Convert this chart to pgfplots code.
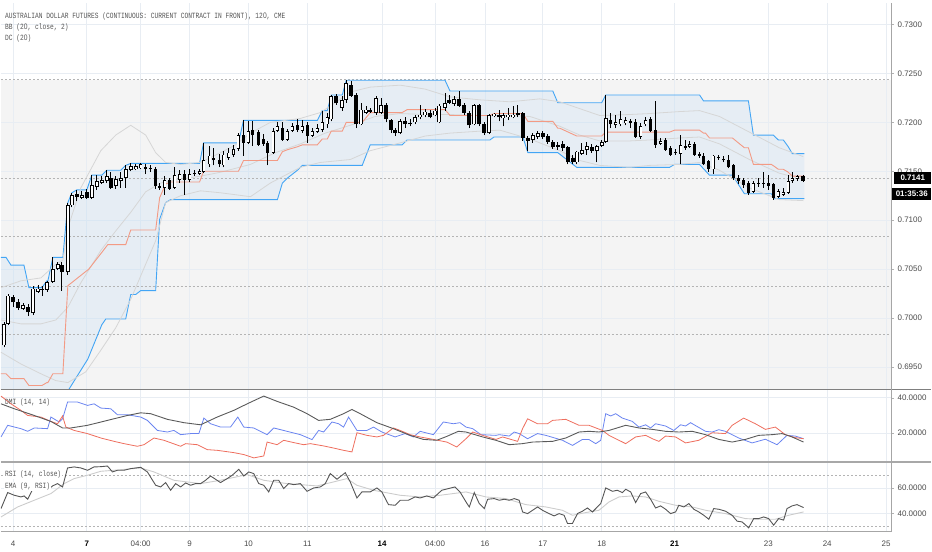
\documentclass[border=0pt]{standalone}
\usepackage{fontspec}
\setmainfont{Liberation Sans}
\newfontfamily\hdr[FakeStretch=0.78]{Liberation Mono}
\newfontfamily\hdrz[FakeStretch=0.84]{Liberation Sans}
\newcommand\zr{{\hdrz 0}}
\usepackage{pgfplots}
\usepackage{pgfplotstable}
\pgfplotsset{compat=1.18}
\usepgfplotslibrary{fillbetween}

\definecolor{gridc}{HTML}{E8EDF3}
\definecolor{labc}{HTML}{4A4A4A}
\definecolor{hdrc}{HTML}{555555}
\definecolor{dcblue}{HTML}{42A5F5}
\definecolor{dcmid}{HTML}{F39A84}
\definecolor{bbgray}{HTML}{D6D6D6}
\definecolor{bggray}{HTML}{F4F4F4}
\definecolor{diplus}{HTML}{6A84F0}
\definecolor{diminus}{HTML}{EE6E5E}
\definecolor{adxc}{HTML}{5A5A5A}
\definecolor{rsic}{HTML}{555555}
\definecolor{emac}{HTML}{CCCCCC}
\definecolor{dashc}{HTML}{B4B4B4}
\definecolor{sepa}{HTML}{7F7F7F}
\definecolor{sepb}{HTML}{A8A8A8}

% bullish candles (close > open)
\pgfplotstableread{
x o h l c
3 0.6972 0.6996 0.6970 0.6994
7 0.6994 0.7025 0.6993 0.7023
22 0.7009 0.7015 0.7008 0.7013
32 0.7005 0.7033 0.7003 0.7030
37 0.7027 0.7034 0.7026 0.7030
46 0.7029 0.7038 0.7027 0.7037
52 0.7037 0.7062 0.7036 0.7050
57 0.7050 0.7057 0.7049 0.7055
67 0.7047 0.7118 0.7044 0.7115
71 0.7115 0.7128 0.7113 0.7126
81 0.7123 0.7130 0.7122 0.7126
91 0.7123 0.7146 0.7122 0.7136
96 0.7134 0.7146 0.7131 0.7140
101 0.7138 0.7145 0.7137 0.7141
106 0.7140 0.7151 0.7138 0.7145
115 0.7135 0.7145 0.7132 0.7142
120 0.7140 0.7149 0.7133 0.7143
125 0.7143 0.7156 0.7133 0.7152
130 0.7151 0.7158 0.7150 0.7155
135 0.7152 0.7157 0.7151 0.7155
140 0.7153 0.7158 0.7152 0.7157
164 0.7133 0.7145 0.7126 0.7141
174 0.7133 0.7154 0.7132 0.7146
179 0.7141 0.7151 0.7138 0.7147
189 0.7141 0.7152 0.7139 0.7147
199 0.7147 0.7152 0.7146 0.7150
203 0.7149 0.7179 0.7148 0.7161
209 0.7157 0.7176 0.7154 0.7166
223 0.7156 0.7171 0.7154 0.7167
228 0.7164 0.7174 0.7162 0.7169
233 0.7167 0.7177 0.7165 0.7173
238 0.7173 0.7189 0.7171 0.7187
248 0.7179 0.7201 0.7178 0.7191
273 0.7169 0.7194 0.7168 0.7191
277 0.7191 0.7200 0.7190 0.7196
287 0.7182 0.7193 0.7181 0.7191
292 0.7191 0.7199 0.7190 0.7196
302 0.7191 0.7202 0.7189 0.7196
312 0.7186 0.7194 0.7185 0.7191
317 0.7190 0.7198 0.7189 0.7194
322 0.7192 0.7212 0.7190 0.7200
327 0.7198 0.7210 0.7194 0.7205
331 0.7203 0.7228 0.7201 0.7227
342 0.7215 0.7227 0.7212 0.7223
346 0.7223 0.7243 0.7220 0.7240
361 0.7198 0.7220 0.7197 0.7213
366 0.7210 0.7217 0.7209 0.7213
376 0.7210 0.7227 0.7208 0.7225
381 0.7210 0.7225 0.7209 0.7218
400 0.7189 0.7203 0.7188 0.7201
415 0.7200 0.7208 0.7198 0.7205
420 0.7205 0.7218 0.7203 0.7208
425 0.7207 0.7214 0.7205 0.7211
435 0.7207 0.7215 0.7206 0.7212
439 0.7200 0.7219 0.7199 0.7217
445 0.7215 0.7230 0.7212 0.7220
454 0.7219 0.7227 0.7217 0.7224
474 0.7198 0.7219 0.7197 0.7218
489 0.7189 0.7209 0.7188 0.7207
494 0.7206 0.7210 0.7205 0.7209
503 0.7204 0.7210 0.7196 0.7207
508 0.7205 0.7215 0.7202 0.7208
513 0.7205 0.7217 0.7204 0.7208
533 0.7182 0.7189 0.7179 0.7187
538 0.7185 0.7191 0.7183 0.7189
577 0.7159 0.7171 0.7157 0.7170
582 0.7168 0.7179 0.7167 0.7172
587 0.7172 0.7180 0.7167 0.7176
597 0.7171 0.7177 0.7159 0.7176
602 0.7176 0.7182 0.7175 0.7180
606 0.7180 0.7228 0.7179 0.7204
616 0.7197 0.7207 0.7194 0.7200
621 0.7198 0.7212 0.7196 0.7203
626 0.7199 0.7205 0.7197 0.7202
641 0.7185 0.7199 0.7183 0.7196
646 0.7198 0.7205 0.7196 0.7202
661 0.7178 0.7184 0.7177 0.7181
681 0.7168 0.7187 0.7157 0.7177
690 0.7175 0.7181 0.7174 0.7178
714 0.7152 0.7167 0.7147 0.7166
754 0.7129 0.7140 0.7128 0.7138
779 0.7124 0.7132 0.7123 0.7130
784 0.7126 0.7133 0.7125 0.7129
789 0.7128 0.7146 0.7127 0.7140
793 0.7140 0.7149 0.7138 0.7143
798 0.7142 0.7146 0.7140 0.7145
}\bull

% bearish candles (close <= open)
\pgfplotstableread{
x o h l c
12 0.7021 0.7024 0.7011 0.7016
17 0.7016 0.7019 0.7008 0.7010
27 0.7011 0.7014 0.7002 0.7006
41 0.7030 0.7033 0.7023 0.7029
61 0.7054 0.7057 0.7028 0.7047
76 0.7127 0.7131 0.7120 0.7124
86 0.7129 0.7132 0.7122 0.7123
110 0.7143 0.7149 0.7132 0.7133
145 0.7154 0.7157 0.7147 0.7152
150 0.7153 0.7156 0.7149 0.7152
155 0.7152 0.7154 0.7132 0.7135
159 0.7135 0.7138 0.7131 0.7133
169 0.7141 0.7143 0.7131 0.7132
184 0.7147 0.7151 0.7126 0.7141
194 0.7148 0.7151 0.7145 0.7147
213 0.7164 0.7174 0.7156 0.7161
219 0.7162 0.7168 0.7154 0.7157
243 0.7187 0.7202 0.7166 0.7179
252 0.7192 0.7201 0.7176 0.7187
258 0.7190 0.7192 0.7176 0.7177
263 0.7183 0.7188 0.7176 0.7178
267 0.7179 0.7181 0.7156 0.7169
282 0.7194 0.7200 0.7181 0.7182
297 0.7197 0.7203 0.7190 0.7192
307 0.7197 0.7200 0.7179 0.7186
336 0.7227 0.7229 0.7218 0.7220
351 0.7238 0.7242 0.7226 0.7227
356 0.7228 0.7230 0.7194 0.7198
370 0.7213 0.7215 0.7210 0.7211
386 0.7218 0.7220 0.7200 0.7203
391 0.7202 0.7203 0.7189 0.7192
395 0.7192 0.7194 0.7186 0.7189
405 0.7201 0.7205 0.7194 0.7198
410 0.7199 0.7203 0.7196 0.7198
430 0.7210 0.7213 0.7204 0.7205
449 0.7223 0.7228 0.7219 0.7220
459 0.7224 0.7232 0.7216 0.7217
464 0.7218 0.7220 0.7207 0.7210
469 0.7210 0.7212 0.7194 0.7197
479 0.7218 0.7219 0.7196 0.7198
484 0.7198 0.7200 0.7187 0.7189
499 0.7207 0.7213 0.7201 0.7205
518 0.7210 0.7218 0.7205 0.7207
523 0.7210 0.7211 0.7181 0.7184
528 0.7184 0.7186 0.7171 0.7181
543 0.7189 0.7191 0.7183 0.7185
548 0.7186 0.7188 0.7178 0.7180
553 0.7180 0.7182 0.7173 0.7175
558 0.7177 0.7180 0.7172 0.7175
563 0.7178 0.7181 0.7171 0.7174
568 0.7175 0.7176 0.7157 0.7159
573 0.7164 0.7167 0.7157 0.7159
592 0.7175 0.7178 0.7169 0.7171
611 0.7202 0.7210 0.7194 0.7198
631 0.7201 0.7203 0.7194 0.7199
636 0.7200 0.7203 0.7184 0.7185
651 0.7203 0.7205 0.7190 0.7191
656 0.7192 0.7222 0.7174 0.7177
666 0.7182 0.7184 0.7171 0.7172
671 0.7174 0.7176 0.7166 0.7167
676 0.7170 0.7173 0.7167 0.7169
686 0.7176 0.7182 0.7172 0.7174
695 0.7178 0.7180 0.7166 0.7167
700 0.7168 0.7170 0.7164 0.7166
704 0.7166 0.7169 0.7156 0.7157
709 0.7160 0.7162 0.7149 0.7152
719 0.7165 0.7167 0.7162 0.7164
724 0.7163 0.7166 0.7159 0.7161
729 0.7162 0.7167 0.7153 0.7154
734 0.7156 0.7157 0.7141 0.7143
739 0.7143 0.7146 0.7137 0.7140
744 0.7141 0.7143 0.7133 0.7136
749 0.7138 0.7140 0.7126 0.7128
759 0.7138 0.7143 0.7134 0.7137
764 0.7138 0.7149 0.7133 0.7137
769 0.7138 0.7146 0.7131 0.7135
774 0.7137 0.7138 0.7121 0.7123
804 0.7145 0.7146 0.7139 0.7140
}\bear

\pgfplotsset{
  panel/.style={
    set layers, scale only axis, width=892pt, xmin=0, xmax=892,
    anchor=north west,
    axis line style={draw=none},
    xtick={12,86,140,189,248,307,382,435,485,543,602,675,769,828,887},
    xticklabels={},
    xmajorgrids, ymajorgrids,
    grid style={draw=gridc, line width=0.7pt},
    x tick style={draw=none},
    ytick pos=right, yticklabel pos=right,
    tick align=outside, major tick length=3pt,
    y tick style={draw=gray!60, line width=0.5pt},
    tick label style={font=\fontsize{8}{9}\selectfont, text=labc},
    scaled y ticks=false,
    yticklabel style={/pgf/number format/.cd, fixed, fixed zerofill, precision=4, assume math mode=true},
  },
  bar/.style={draw=none, mark=none, forget plot,
    error bars/.cd, y dir=plus, y explicit, error mark=none},
}

\begin{document}
\begin{tikzpicture}
\path (0,0) rectangle (932pt,-550pt);

% ================= MAIN PRICE PANEL =================
\begin{axis}[panel, at={(0pt,0pt)}, height=387pt,
  ymin=0.692726, ymax=0.7322,
  ytick={0.695,0.700,0.705,0.710,0.715,0.720,0.725,0.730}]

\addplot[fill=bggray, draw=none, on layer=axis background]
  coordinates {(0,0.72435) (892,0.72435) (892,0.692726) (0,0.692726)} -- cycle;

% dotted horizontal levels
\addplot[dashc, line width=0.8pt, dash pattern=on 2pt off 2pt] coordinates {(0,0.72435) (892,0.72435)};
\addplot[dashc, line width=0.8pt, dash pattern=on 2pt off 2pt] coordinates {(0,0.7143) (892,0.7143)};
\addplot[dashc, line width=0.8pt, dash pattern=on 2pt off 2pt] coordinates {(0,0.7083) (892,0.7083)};
\addplot[dashc, line width=0.8pt, dash pattern=on 2pt off 2pt] coordinates {(0,0.7032) (892,0.7032)};
\addplot[dashc, line width=0.8pt, dash pattern=on 2pt off 2pt] coordinates {(0,0.6983) (892,0.6983)};

% Donchian channel
\addplot[name path=dcu, dcblue, line width=0.9pt] coordinates {
(0,0.7062)(5,0.7062)(10,0.7054)(23,0.7054)(28,0.7031)(41,0.7031)(46,0.7038)(47,0.7038)
(52,0.7062)(62,0.7062)(67,0.7118)(71,0.7128)(76,0.7131)(86,0.7131)(91,0.7146)(101,0.7146)
(106,0.7151)(120,0.7151)(125,0.7156)(130,0.7158)(199,0.7158)(203,0.7179)(238,0.7179)
(243,0.7202)(317,0.7202)(322,0.7212)(327,0.7212)(331,0.7228)(342,0.7228)(346,0.7243)
(445,0.7243)(450,0.7232)(553,0.7232)(558,0.7220)(602,0.7220)(606,0.7228)(700,0.7228)
(704,0.7222)(749,0.7222)(754,0.7187)(774,0.7187)(779,0.7182)(784,0.7182)(789,0.7175)
(793,0.7168)(805,0.7168)};
\addplot[name path=dcl, dcblue, line width=0.9pt] coordinates {
(0,0.6900)(64,0.6900)(66,0.6919)(68,0.6927)(87,0.6958)(101,0.6993)(105,0.6999)(125,0.6999)
(130,0.7024)(135,0.7024)(140,0.7028)(155,0.7028)(159,0.7101)(165,0.7118)(170,0.7121)
(277,0.7121)(282,0.7138)(287,0.7143)(297,0.7151)(302,0.7156)(362,0.7156)(370,0.7177)
(402,0.7177)(407,0.7182)(490,0.7182)(494,0.7185)(523,0.7185)(528,0.7169)(558,0.7169)
(577,0.7154)(670,0.7154)(675,0.7157)(700,0.7157)(710,0.7146)(733,0.7146)(745,0.7127)
(772,0.7127)(775,0.7122)(805,0.7122)};
\addplot[fill=dcblue, fill opacity=0.08, draw=none] fill between[of=dcu and dcl];

% Bollinger bands
\addplot[bbgray, line width=0.8pt] coordinates {
(0,0.7031)(20,0.7038)(40,0.7041)(55,0.7055)(62,0.7059)(67,0.7092)(80,0.7133)(100,0.7171)
(115,0.7187)(130,0.7197)(145,0.7187)(155,0.7169)(165,0.7159)(180,0.7157)(200,0.7159)
(220,0.7169)(235,0.7177)(250,0.7189)(270,0.7200)(300,0.7204)(320,0.7210)(335,0.7220)
(350,0.7231)(370,0.7236)(400,0.7238)(425,0.7234)(450,0.7226)(480,0.7223)(510,0.7221)
(540,0.7224)(560,0.7221)(580,0.7214)(600,0.7207)(630,0.7208)(650,0.7209)(680,0.7211)
(700,0.7212)(720,0.7206)(750,0.7190)(780,0.7174)(804,0.7165)};
\addplot[bbgray, line width=0.8pt] coordinates {
(0,0.6998)(20,0.6994)(40,0.6994)(55,0.6998)(67,0.7011)(80,0.7036)(100,0.7069)(115,0.7089)
(130,0.7108)(145,0.7129)(160,0.7138)(180,0.7142)(200,0.7145)(220,0.7149)(250,0.7157)
(275,0.7169)(300,0.7178)(325,0.7189)(350,0.7197)(375,0.7206)(400,0.7209)(425,0.7208)
(450,0.7208)(480,0.7207)(510,0.7207)(530,0.7206)(560,0.7196)(580,0.7187)(600,0.7181)
(630,0.7181)(650,0.7182)(680,0.7184)(700,0.7185)(720,0.7178)(750,0.7162)(780,0.7148)(804,0.7142)};
\addplot[bbgray, line width=0.8pt] coordinates {
(0,0.6965)(20,0.6953)(40,0.6943)(55,0.6936)(67,0.6934)(85,0.6945)(100,0.6967)(115,0.6990)
(130,0.7019)(145,0.7055)(155,0.7079)(165,0.7118)(180,0.7125)(200,0.7130)(220,0.7128)
(250,0.7124)(270,0.7138)(300,0.7154)(320,0.7159)(350,0.7162)(370,0.7171)(400,0.7179)
(425,0.7186)(450,0.7189)(480,0.7191)(500,0.7192)(530,0.7183)(560,0.7171)(580,0.7161)
(600,0.7156)(630,0.7154)(650,0.7156)(680,0.7157)(700,0.7159)(720,0.7151)(750,0.7133)
(780,0.7121)(804,0.7120)};

% Donchian basis
\addplot[dcmid, line width=0.9pt] coordinates {
(0,0.6943)(5,0.6943)(10,0.6938)(23,0.6938)(28,0.6931)(41,0.6931)(46,0.6934)(47,0.6934)
(52,0.6943)(62,0.6943)(67,0.7033)(88,0.7050)(101,0.7067)(107,0.7075)(125,0.7075)
(130,0.7090)(155,0.7090)(159,0.7123)(165,0.7137)(170,0.7139)(199,0.7139)(203,0.7150)
(238,0.7150)(243,0.7161)(277,0.7161)(282,0.7170)(287,0.7172)(297,0.7175)(302,0.7177)
(317,0.7177)(322,0.7183)(327,0.7183)(331,0.7191)(342,0.7191)(346,0.7200)(362,0.7200)
(370,0.7210)(402,0.7210)(407,0.7213)(445,0.7213)(450,0.7207)(490,0.7207)(494,0.7209)
(523,0.7209)(528,0.7201)(553,0.7201)(558,0.7194)(560,0.7194)(577,0.7186)(602,0.7186)
(606,0.7190)(670,0.7190)(675,0.7192)(700,0.7192)(704,0.7189)(706,0.7189)(710,0.7184)
(733,0.7184)(745,0.7174)(749,0.7174)(754,0.7157)(772,0.7157)(775,0.7155)(779,0.7152)
(784,0.7152)(789,0.7149)(793,0.7145)(805,0.7145)};

% candles: wicks
\addplot[bar, error bar style={draw=black, solid, line width=0.8pt}]
  table[x=x, y=l, y error expr=\thisrow{h}-\thisrow{l}] {\bull};
\addplot[bar, error bar style={draw=black, solid, line width=0.8pt}]
  table[x=x, y=l, y error expr=\thisrow{h}-\thisrow{l}] {\bear};
% bodies
\addplot[bar, error bar style={draw=black, solid, line width=3.6pt}]
  table[x=x, y=c, y error expr=\thisrow{o}-\thisrow{c}] {\bear};
\addplot[bar, error bar style={draw=black, solid, line width=3.6pt}]
  table[x=x, y=o, y error expr=\thisrow{c}-\thisrow{o}] {\bull};
\addplot[bar, error bar style={draw=white, solid, line width=2.0pt}]
  table[x=x, y expr=\thisrow{o}+0.00008, y error expr=\thisrow{c}-\thisrow{o}-0.00016] {\bull};
\end{axis}

% ================= DMI PANEL =================
\begin{axis}[panel, at={(0pt,-388pt)}, height=72pt,
  ymin=3.57, ymax=44.36, ytick={20,40}]
\addplot[diplus, line width=0.8pt] coordinates {
(0,17.8)(6.7,24.4)(20,22.5)(26.7,21.0)(33.3,22.9)(46.7,22.5)(50,29.1)(58.3,26.3)(61.7,28.1)
(66.7,37.6)(76.7,37.6)(86.7,35.7)(93.3,36.6)(100,34.2)(110,33.8)(116.7,30.4)(126.7,30.4)
(140,29.1)(146.7,27.2)(156.7,21.5)(166.7,20.6)(173.3,21.5)(180,19.1)(190,19.7)(198.3,19.7)
(203.3,28.5)(210,25.3)(220,23.4)(230,23.4)(237.3,29.1)(243.3,23.4)(253.3,22.9)(266.7,19.1)
(273.3,22.9)(286.7,21.0)(300,19.1)(311.7,16.3)(318.3,21.5)(323.3,20.6)(331.7,26.3)
(338.3,25.3)(343.3,23.4)(348.3,29.1)(356.7,21.5)(366.7,21.5)(373.3,23.4)(381.7,20.6)
(395,17.8)(405,19.7)(413.3,17.8)(420,21.0)(433.3,19.1)(443.3,26.3)(453.3,25.3)(460,25.9)
(466,23.4)(472.7,22.5)(481,19.1)(496,18.7)(499.3,19.1)(509.3,18.3)(514.3,20.6)(519.3,19.7)
(527.7,16.8)(537.7,19.7)(546,18.7)(562.7,15.9)(572.7,13.0)(582.7,16.4)(589.3,16.3)
(596,14.0)(601,15.9)(606,31.0)(611,29.7)(616,31.0)(622.7,28.5)(632.7,26.6)(639.3,23.4)
(646,24.7)(651,22.9)(656,25.3)(666,24.0)(674.3,21.5)(681,24.7)(686,24.0)(691,25.9)
(706,21.0)(712.7,20.6)(719.3,21.9)(726,21.0)(739.3,17.2)(752.7,14.4)(766,16.5)
(777.7,13.4)(787.7,18.7)(796,18.3)(804.3,16.8)};
\addplot[diminus, line width=0.8pt] coordinates {
(0,41.0)(10,36.6)(20,32.9)(26.7,30.0)(40,29.1)(50,26.6)(56.7,25.3)(61.7,29.7)(65,23.4)
(73.3,21.5)(86.7,19.7)(100,17.2)(113.3,15.3)(123.3,14.0)(136.7,12.5)(143.3,13.4)
(153.3,17.2)(163.3,15.9)(180,12.5)(185,14.0)(196.7,13.4)(206.7,10.6)(216.7,10.2)
(233.3,8.9)(243.3,7.8)(253.3,5.9)(263.3,7.0)(266.7,14.9)(276.7,13.4)(283.3,15.9)
(293.3,14.6)(303.3,13.4)(310,14.0)(323.3,12.7)(333.3,11.5)(343.3,10.2)(351.7,9.3)
(356.7,20.2)(366.7,18.7)(376.7,17.8)(383.3,18.7)(393.3,22.9)(400,21.5)(410,19.1)
(420,17.8)(433.3,16.4)(446.7,14.9)(456.7,12.1)(466,16.8)(472.7,20.6)(482.7,18.7)
(496,16.4)(502.7,17.8)(517.7,15.3)(522.7,22.5)(527.7,28.1)(537.7,25.3)(547.7,25.3)
(552.7,27.2)(566,27.8)(579.3,24.4)(589.3,24.4)(602.7,21.5)(609.3,18.7)(626,14.0)
(636,17.8)(646,18.7)(652.7,16.8)(659.3,15.3)(666,18.3)(676,17.8)(686,14.4)(699.3,15.9)
(712.7,20.2)(726,19.7)(732.7,24.4)(744.3,28.5)(756,25.3)(766,22.1)(776,23.4)(786,19.1)
(796,17.4)(804.3,16.8)};
\addplot[adxc, line width=0.9pt] coordinates {
(0,36.6)(13.3,33.8)(33.3,30.0)(50,26.6)(61.7,22.9)(70,22.9)(86.7,24.4)(106.7,27.2)
(126.7,30.0)(140,31.5)(150,31.0)(166.7,27.8)(183.3,25.9)(200,24.7)(216.7,29.1)
(233.3,32.9)(246.7,36.6)(263.3,41.0)(276.7,38.0)(293.3,34.7)(306.7,31.0)(318.3,27.2)
(330,27.8)(343.3,31.0)(351.7,33.4)(360,31.0)(376.7,25.9)(393.3,22.5)(410,18.7)
(423.3,16.4)(436.7,15.9)(446.7,18.1)(458.3,21.0)(466,20.6)(482.7,17.8)(496,15.9)
(509.3,13.4)(522.7,14.0)(532.7,14.9)(552.7,15.3)(566,17.2)(579.3,20.6)(589.3,21.0)
(599.3,20.6)(609.3,21.5)(626,24.4)(639.3,22.9)(652.7,22.1)(666,21.0)(679.3,20.6)
(692.7,21.0)(706,19.1)(719.3,16.4)(732.7,14.9)(746,16.4)(759.3,18.7)(772.7,19.1)
(782.7,19.7)(792.7,17.8)(804.3,14.9)};
\end{axis}

% ================= RSI PANEL =================
\begin{axis}[panel, at={(0pt,-461pt)}, height=69pt,
  ymin=25.76, ymax=79.46, ytick={40,60},
  xticklabels={4,\textcolor{black}{\textbf{7}},04:00,9,10,11,\textcolor{black}{\textbf{14}},04:00,16,17,18,\textcolor{black}{\textbf{21}},23,24,25},
  xticklabel style={yshift=-3pt}]
\addplot[dashc, line width=0.8pt, dash pattern=on 2pt off 2pt] coordinates {(0,70) (892,70)};
\addplot[dashc, line width=0.8pt, dash pattern=on 2pt off 2pt] coordinates {(0,30) (892,30)};
\addplot[emac, line width=0.9pt] coordinates {
(0,37.4)(16.7,45.2)(33.3,50.4)(50,55.6)(63.3,63.4)(73.3,67.3)(86.7,69.9)(100,73.0)
(113.3,73.8)(140,75.6)(153.3,72.5)(173.3,66.0)(200,63.4)(220,66.0)(246.7,70.4)
(263.3,66.0)(286.7,63.4)(316.7,61.6)(333.3,64.7)(346.7,67.3)(356.7,62.1)(373.3,58.2)
(400,54.3)(420,53.0)(440,54.3)(466,56.9)(486,53.0)(506,51.7)(526,47.0)(546,45.2)
(562.7,42.6)(572.7,38.7)(586,40.8)(599.3,42.6)(609.3,49.1)(619.3,53.0)(632.7,53.8)
(646,53.0)(659.3,49.6)(676,46.5)(692.7,45.2)(706,42.6)(726,40.0)(746,36.1)(759.3,35.6)
(776,35.6)(789.3,38.7)(804.3,41.3)};
\addplot[rsic, line width=0.9pt] coordinates {
(0,43.9)(6.7,56.4)(13.3,54.3)(20,53.0)(23.3,53.8)(26.7,51.2)(31.7,59.0)(36.7,58.2)
(41.7,60.0)(46.7,58.2)(51.7,61.6)(56.7,63.4)(61.7,60.8)(66.7,75.6)(73.3,76.4)(80,75.6)
(86.7,73.8)(93.3,76.4)(100,76.6)(106.7,77.1)(111.7,72.5)(116.7,73.8)(123.3,73.8)
(130,75.1)(140,76.1)(146.7,72.5)(155,62.1)(160,60.8)(165,64.2)(170,58.2)(175,63.4)
(180,60.8)(185,63.9)(190,62.1)(195,63.4)(200,63.4)(205,66.0)(210,69.3)(215,66.8)
(220,64.2)(226.7,67.3)(231.7,69.9)(238.3,74.5)(243.3,69.3)(248.3,72.5)(253.3,71.2)
(258.3,63.4)(263.3,62.1)(268.3,56.9)(273.3,66.0)(278.3,66.0)(283.3,59.5)(288.3,63.4)
(293.3,62.6)(300,63.4)(306.7,57.4)(313.3,60.0)(320,60.8)(325,63.4)(330,71.2)(336.7,66.8)
(345,71.9)(350,64.7)(356.7,52.2)(361.7,56.9)(370,56.9)(376.7,60.0)(381.7,56.9)
(388.3,47.0)(395,46.5)(400,50.4)(408.3,50.4)(415,53.0)(420,52.2)(426.7,53.8)(433.3,52.2)
(441.7,58.2)(448.3,59.5)(455,60.8)(460,56.9)(466,49.1)(469.3,45.2)(474.3,56.4)
(479.3,47.8)(484.3,43.9)(487.7,51.2)(494.3,51.7)(499.3,50.4)(504.3,51.2)(509.3,50.4)
(514.3,51.7)(519.3,50.4)(522.7,41.3)(527.7,40.0)(532.7,42.6)(537.7,45.2)(542.7,42.6)
(549.3,40.0)(554.3,38.2)(559.3,40.0)(564.3,38.7)(567.7,32.3)(572.7,32.3)(577.7,40.0)
(582.7,41.9)(587.7,44.4)(592.7,41.3)(597.7,45.2)(601,47.8)(606,60.0)(612.7,57.4)
(617.7,58.2)(622.7,56.4)(626,59.0)(631,56.9)(636,48.6)(641,55.6)(646,56.9)(651,51.2)
(656,44.4)(661,46.0)(666,43.4)(671,40.0)(676,41.3)(679.3,46.5)(684.3,45.2)(689.3,47.8)
(694.3,43.4)(699.3,41.3)(704.3,38.7)(709.3,35.6)(714.3,43.9)(719.3,43.4)(726,41.9)
(732.7,38.7)(737.7,34.1)(742.7,33.5)(749.3,28.9)(754.3,36.1)(759.3,36.1)(764.3,37.4)
(769.3,36.1)(774.3,31.0)(779.3,36.1)(784.3,34.9)(787.7,43.9)(792.7,46.0)(797.7,47.0)
(804.3,44.7)};
\end{axis}

% separators and borders
\draw[sepa, line width=1.2pt] (0,-387pt) -- (932pt,-387pt);
\draw[sepb, line width=2pt] (0,-460pt) -- (932pt,-460pt);
\draw[gray!70, line width=0.8pt] (0,-530pt) -- (892pt,-530pt);
\draw[gray!70, line width=0.8pt] (892pt,0) -- (892pt,-530pt);

% header texts
\begin{scope}[every node/.style={anchor=base west, inner sep=0pt, text=hdrc, font=\hdr\fontsize{8}{9}\selectfont}]
\node at (4pt,-15.5pt) {AUSTRALIAN DOLLAR FUTURES (CONTINUOUS: CURRENT CONTRACT IN FRONT), 12\zr, CME};
\node at (4pt,-26.5pt) {BB (2\zr, close, 2)};
\node at (4pt,-37.5pt) {DC (2\zr)};
\node at (4pt,-402.5pt) {DMI (14, 14)};
\node[fill=white, inner sep=0.8pt] at (3.2pt,-475pt) {RSI (14, close)};
\node[fill=white, inner sep=0.8pt] at (3.2pt,-486.5pt) {EMA (9, RSI)};
\end{scope}

% price boxes
\node[fill=black, text=white, font=\bfseries\fontsize{8}{9}\selectfont, anchor=west,
      minimum width=37pt, minimum height=11.5pt, inner sep=1pt] at (895pt,-175.5pt) {0.7141};
\node[fill=black, text=white, font=\bfseries\fontsize{8}{9}\selectfont, anchor=west,
      minimum width=39pt, minimum height=12pt, inner sep=1pt] at (893pt,-191pt) {01:35:36};
\end{tikzpicture}
\end{document}
